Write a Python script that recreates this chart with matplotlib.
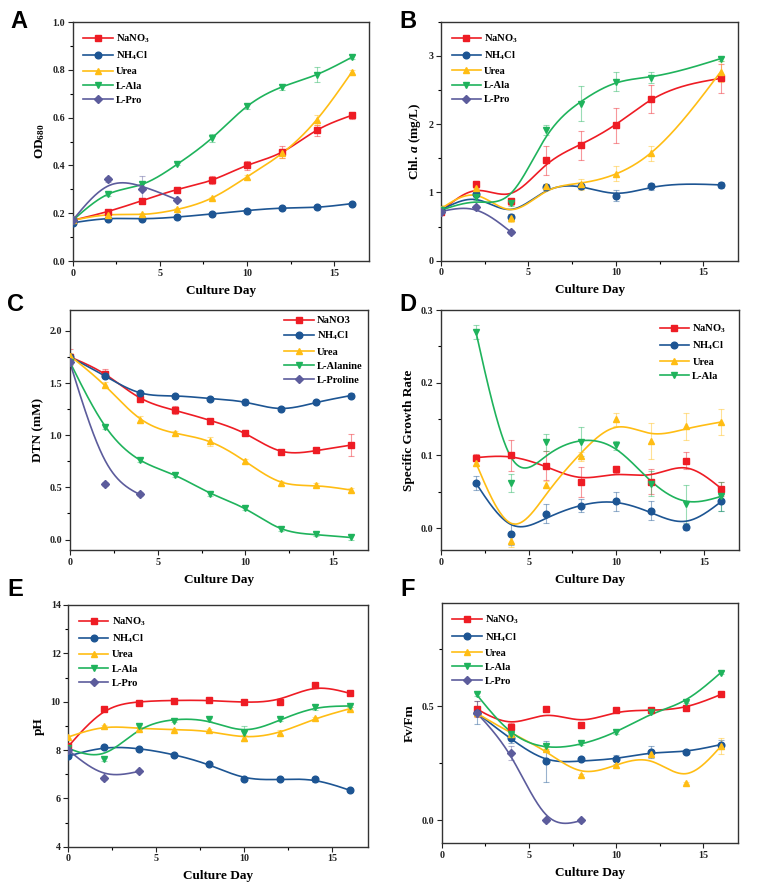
import numpy as np
import matplotlib
matplotlib.use("Agg")
import matplotlib.pyplot as plt
from matplotlib.ticker import MultipleLocator

plt.rcParams['font.family'] = ['Liberation Serif', 'DejaVu Serif']
plt.rcParams['font.weight'] = 'bold'
plt.rcParams['mathtext.fontset'] = 'custom'
plt.rcParams['mathtext.rm'] = 'Liberation Serif:bold'
plt.rcParams['mathtext.bf'] = 'Liberation Serif:bold'
plt.rcParams['mathtext.it'] = 'Liberation Serif:bold:italic'

# ---------------- data ----------------
days_all = [0, 2, 4, 6, 8, 10, 12, 14, 16]
days_b = [0, 2, 4, 6, 8, 10, 12, 16]
days_grow = [2, 4, 6, 8, 10, 12, 14, 16]

# Panel A: OD680
A_nano3 = [0.17, 0.207, 0.253, 0.299, 0.339, 0.400, 0.455, 0.547, 0.609]
A_nano3_err = [0.005, 0.008, 0.01, 0.01, 0.015, 0.02, 0.025, 0.022, 0.015]
A_nh4cl = [0.16, 0.177, 0.177, 0.184, 0.197, 0.211, 0.221, 0.225, 0.240]
A_nh4cl_err = [0.005, 0.005, 0.005, 0.005, 0.005, 0.005, 0.005, 0.005, 0.005]
A_urea = [0.17, 0.193, 0.195, 0.216, 0.264, 0.352, 0.450, 0.591, 0.789]
A_urea_err = [0.005, 0.005, 0.005, 0.005, 0.005, 0.008, 0.02, 0.02, 0.012]
A_lala = [0.17, 0.279, 0.321, 0.405, 0.515, 0.647, 0.728, 0.780, 0.852]
A_lala_err = [0.005, 0.005, 0.01, 0.005, 0.015, 0.01, 0.012, 0.03, 0.008]
A_lpro_days = [0, 2, 4, 6]
A_lpro = [0.17, 0.342, 0.300, 0.256]
A_lpro_err = [0.005, 0.01, 0.055, 0.005]

# Panel B: Chl. a
B_nano3 = [0.72, 1.12, 0.87, 1.47, 1.69, 1.98, 2.37, 2.67]
B_nano3_err = [0.05, 0.05, 0.05, 0.21, 0.21, 0.25, 0.20, 0.21]
B_nh4cl = [0.74, 0.98, 0.64, 1.08, 1.09, 0.95, 1.09, 1.11]
B_nh4cl_err = [0.05, 0.05, 0.05, 0.04, 0.04, 0.08, 0.05, 0.04]
B_urea = [0.76, 1.06, 0.62, 1.09, 1.12, 1.27, 1.57, 2.77]
B_urea_err = [0.05, 0.05, 0.06, 0.04, 0.08, 0.11, 0.11, 0.15]
B_lala = [0.74, 0.93, 0.85, 1.91, 2.30, 2.62, 2.68, 2.96]
B_lala_err = [0.05, 0.04, 0.05, 0.07, 0.26, 0.14, 0.08, 0.03]
B_lpro_days = [0, 2, 4]
B_lpro = [0.72, 0.78, 0.42]
B_lpro_err = [0.03, 0.03, 0.03]

# Panel C: DTN
C_nano3 = [1.75, 1.59, 1.35, 1.24, 1.14, 1.02, 0.84, 0.855, 0.905]
C_nano3_err = [0.08, 0.04, 0.03, 0.04, 0.02, 0.02, 0.02, 0.02, 0.105]
C_nh4cl = [1.75, 1.57, 1.40, 1.38, 1.35, 1.32, 1.25, 1.315, 1.38]
C_nh4cl_err = [0.03, 0.02, 0.02, 0.01, 0.01, 0.03, 0.02, 0.02, 0.02]
C_urea = [1.76, 1.48, 1.15, 1.02, 0.94, 0.75, 0.545, 0.52, 0.475]
C_urea_err = [0.03, 0.03, 0.03, 0.02, 0.04, 0.02, 0.02, 0.02, 0.02]
C_lalanine = [1.70, 1.08, 0.76, 0.62, 0.44, 0.30, 0.10, 0.05, 0.02]
C_lalanine_err = [0.02, 0.02, 0.02, 0.02, 0.02, 0.02, 0.02, 0.02, 0.02]
C_lproline_days = [0, 2, 4]
C_lproline = [1.70, 0.53, 0.435]
C_lproline_err = [0.02, 0.02, 0.02]

# Panel D: specific growth rate
D_nano3 = [0.097, 0.100, 0.086, 0.0635, 0.081, 0.064, 0.093, 0.054]
D_nano3_err = [0.005, 0.021, 0.02, 0.021, 0.005, 0.017, 0.012, 0.01]
D_nh4cl = [0.062, -0.008, 0.020, 0.031, 0.037, 0.024, 0.002, 0.037]
D_nh4cl_err = [0.01, 0.015, 0.013, 0.009, 0.013, 0.013, 0.005, 0.013]
D_urea = [0.090, -0.018, 0.060, 0.099, 0.150, 0.120, 0.140, 0.146]
D_urea_err = [0.005, 0.008, 0.005, 0.006, 0.009, 0.025, 0.019, 0.018]
D_lala = [0.270, 0.062, 0.118, 0.119, 0.114, 0.061, 0.033, 0.044]
D_lala_err = [0.01, 0.012, 0.012, 0.02, 0.006, 0.017, 0.027, 0.02]

# Panel E: pH
E_nano3 = [8.15, 9.70, 9.93, 10.04, 10.06, 10.0, 10.0, 10.69, 10.34]
E_nano3_err = [0.05, 0.05, 0.05, 0.05, 0.05, 0.05, 0.05, 0.05, 0.05]
E_nh4cl = [7.75, 8.11, 8.04, 7.79, 7.43, 6.79, 6.79, 6.79, 6.33]
E_nh4cl_err = [0.05, 0.05, 0.05, 0.05, 0.05, 0.05, 0.05, 0.1, 0.05]
E_urea = [8.54, 8.99, 8.86, 8.84, 8.81, 8.51, 8.72, 9.32, 9.71]
E_urea_err = [0.05, 0.05, 0.05, 0.05, 0.05, 0.12, 0.1, 0.05, 0.05]
E_lala = [8.07, 7.61, 8.99, 9.20, 9.27, 8.69, 9.27, 9.77, 9.82]
E_lala_err = [0.05, 0.05, 0.05, 0.05, 0.05, 0.3, 0.05, 0.1, 0.05]
E_lpro_days = [0, 2, 4]
E_lpro = [8.0, 6.83, 7.12]
E_lpro_err = [0.05, 0.05, 0.05]

# Panel F: Fv/Fm
F_nano3 = [0.488, 0.408, 0.488, 0.418, 0.484, 0.481, 0.493, 0.551]
F_nano3_err = [0.035, 0.02, 0.005, 0.005, 0.005, 0.005, 0.005, 0.005]
F_nh4cl = [0.471, 0.360, 0.258, 0.267, 0.268, 0.300, 0.299, 0.332]
F_nh4cl_err = [0.05, 0.02, 0.09, 0.005, 0.02, 0.025, 0.01, 0.02]
F_urea = [0.469, 0.379, 0.313, 0.197, 0.243, 0.292, 0.165, 0.325]
F_urea_err = [0.01, 0.01, 0.01, 0.005, 0.015, 0.015, 0.005, 0.035]
F_lala = [0.551, 0.376, 0.324, 0.337, 0.385, 0.474, 0.517, 0.647]
F_lala_err = [0.005, 0.005, 0.01, 0.005, 0.005, 0.005, 0.005, 0.005]
F_lpro_days = [2, 4, 6, 8]
F_lpro = [0.471, 0.294, 0.0, 0.0]
F_lpro_err = [0.01, 0.03, 0.005, 0.005]

# ---------------- style ----------------
C_RED = '#ee1c24'
C_BLUE = '#1d5593'
C_YEL = '#ffbd14'
C_GRN = '#1fb35c'
C_PUR = '#5c5c9c'

LBL_NANO3 = 'NaNO$_3$'
LBL_NH4CL = 'NH$_4$Cl'


def smooth(x, y, lam, wend=20.0, n=400):
    """Smoothing spline (penalised second differences) that is pinned
    near the first and last data point, like Origin's spline connector."""
    x = np.asarray(x, float)
    y = np.asarray(y, float)
    xs = np.linspace(x.min(), x.max(), n)
    h = xs[1] - xs[0]
    A = np.zeros((len(x), n))
    for i, xi in enumerate(x):
        j = min(int((xi - xs[0]) / h), n - 2)
        t = (xi - xs[j]) / h
        A[i, j] = 1 - t
        A[i, j + 1] = t
    w = np.ones(len(x))
    w[0] = w[-1] = wend
    W_ = np.diag(w)
    D = np.diff(np.eye(n), 2, axis=0) / h ** 2
    M = A.T @ W_ @ A + lam * h * (D.T @ D)
    f = np.linalg.solve(M, A.T @ W_ @ y)
    return xs, f


def series(ax, x, y, err, color, marker, label, lam, ms=4.8):
    xs, f = smooth(x, y, lam)
    ax.plot(xs, f, color=color, lw=1.2, zorder=2)
    ax.errorbar(x, y, yerr=err, fmt='none', ecolor=color, alpha=0.45,
                elinewidth=0.8, capsize=2.2, capthick=0.8, zorder=1)
    ax.plot(x, y, linestyle='none', marker=marker, color=color, ms=ms, zorder=3)
    ax.plot([], [], color=color, marker=marker, ms=ms, lw=1.2, label=label)


def style(ax, ylim, ymaj, ymin, ylabel):
    ax.set_xlim(0, 17)
    ax.set_ylim(*ylim)
    ax.xaxis.set_major_locator(MultipleLocator(5))
    ax.xaxis.set_minor_locator(MultipleLocator(2.5))
    ax.yaxis.set_major_locator(MultipleLocator(ymaj))
    ax.yaxis.set_minor_locator(MultipleLocator(ymin))
    ax.tick_params(which='major', direction='out', length=3.5, width=0.8,
                   labelsize=7.2, pad=2, colors='#222222')
    ax.tick_params(which='minor', direction='out', length=2, width=0.8)
    for s in ax.spines.values():
        s.set_color('#333333')
        s.set_linewidth(1.0)
    for lab in ax.get_xticklabels() + ax.get_yticklabels():
        lab.set_fontweight('bold')
    ax.set_xlabel('Culture Day', fontsize=9.5, fontweight='bold', labelpad=5)
    ax.set_ylabel(ylabel, fontsize=9.5, fontweight='bold', labelpad=4)


def legend(ax, loc, **kw):
    opts = dict(loc=loc, frameon=False, fontsize=7.6, handlelength=2.8,
                labelspacing=0.45, handletextpad=0.3, borderaxespad=0.6)
    opts.update(kw)
    ax.legend(**opts)


W, H = 761, 889
fig = plt.figure(figsize=(W / 100, H / 100), dpi=100)


def axes_px(l, r, t, b):
    return fig.add_axes([l / W, 1 - b / H, (r - l) / W, (b - t) / H])


axA = axes_px(72.7, 369, 22, 261)
axB = axes_px(441, 738.3, 21.7, 260.7)
axC = axes_px(70, 368.3, 310, 550)
axD = axes_px(441, 739, 310, 550)
axE = axes_px(68.3, 367.7, 605, 846.7)
axF = axes_px(441.7, 738.3, 603.3, 843.3)

# A
series(axA, days_all, A_nano3, A_nano3_err, C_RED, 's', LBL_NANO3, 0.01)
series(axA, days_all, A_nh4cl, A_nh4cl_err, C_BLUE, 'o', LBL_NH4CL, 0.01)
series(axA, days_all, A_urea, A_urea_err, C_YEL, '^', 'Urea', 0.01)
series(axA, days_all, A_lala, A_lala_err, C_GRN, 'v', 'L-Ala', 0.01)
series(axA, A_lpro_days, A_lpro, A_lpro_err, C_PUR, 'D', 'L-Pro', 0.6, ms=4.3)
style(axA, (0, 1.0), 0.2, 0.1, 'OD$_{680}$')
legend(axA, 'upper left')

# B
series(axB, days_b, B_nano3, B_nano3_err, C_RED, 's', LBL_NANO3, 0.3)
series(axB, days_b, B_nh4cl, B_nh4cl_err, C_BLUE, 'o', LBL_NH4CL, 0.3)
series(axB, days_b, B_urea, B_urea_err, C_YEL, '^', 'Urea', 0.3)
series(axB, days_b, B_lala, B_lala_err, C_GRN, 'v', 'L-Ala', 0.3)
series(axB, B_lpro_days, B_lpro, B_lpro_err, C_PUR, 'D', 'L-Pro', 0.3, ms=4.3)
style(axB, (0, 3.5), 1, 0.5, 'Chl. $a$ (mg/L)')
legend(axB, 'upper left')

# C
series(axC, days_all, C_nano3, C_nano3_err, C_RED, 's', 'NaNO3', 0.1)
series(axC, days_all, C_nh4cl, C_nh4cl_err, C_BLUE, 'o', LBL_NH4CL, 0.1)
series(axC, days_all, C_urea, C_urea_err, C_YEL, '^', 'Urea', 0.1)
series(axC, days_all, C_lalanine, C_lalanine_err, C_GRN, 'v', 'L-Alanine', 0.1)
series(axC, C_lproline_days, C_lproline, C_lproline_err, C_PUR, 'D', 'L-Proline', 1.0, ms=4.3)
style(axC, (-0.1, 2.2), 0.5, 0.25, 'DTN (mM)')
legend(axC, 'upper right', borderaxespad=0.15)

# D
series(axD, days_grow, D_nano3, D_nano3_err, C_RED, 's', LBL_NANO3, 0.5)
series(axD, days_grow, D_nh4cl, D_nh4cl_err, C_BLUE, 'o', LBL_NH4CL, 0.5)
series(axD, days_grow, D_urea, D_urea_err, C_YEL, '^', 'Urea', 0.5)
series(axD, days_grow, D_lala, D_lala_err, C_GRN, 'v', 'L-Ala', 0.5)
style(axD, (-0.03, 0.3), 0.1, 0.05, 'Specific Growth Rate')
legend(axD, 'upper right', borderaxespad=0.8, borderpad=0.4)

# E
series(axE, days_all, E_nano3, E_nano3_err, C_RED, 's', LBL_NANO3, 0.4)
series(axE, days_all, E_nh4cl, E_nh4cl_err, C_BLUE, 'o', LBL_NH4CL, 0.4)
series(axE, days_all, E_urea, E_urea_err, C_YEL, '^', 'Urea', 0.4)
series(axE, days_all, E_lala, E_lala_err, C_GRN, 'v', 'L-Ala', 0.4)
series(axE, E_lpro_days, E_lpro, E_lpro_err, C_PUR, 'D', 'L-Pro', 0.6, ms=4.3)
style(axE, (4, 14), 2, 1, 'pH')
legend(axE, 'upper left')

# F
series(axF, days_grow, F_nano3, F_nano3_err, C_RED, 's', LBL_NANO3, 0.4)
series(axF, days_grow, F_nh4cl, F_nh4cl_err, C_BLUE, 'o', LBL_NH4CL, 0.4)
series(axF, days_grow, F_urea, F_urea_err, C_YEL, '^', 'Urea', 0.4)
series(axF, days_grow, F_lala, F_lala_err, C_GRN, 'v', 'L-Ala', 0.4)
series(axF, F_lpro_days, F_lpro, F_lpro_err, C_PUR, 'D', 'L-Pro', 0.2, ms=4.3)
style(axF, (-0.1, 0.95), 0.5, 0.25, 'Fv/Fm')
legend(axF, 'upper left')

# Panel letters
for letter, (px, py) in {'A': (19, 22), 'B': (408, 22), 'C': (15, 305),
                         'D': (408, 305), 'E': (15, 590), 'F': (408, 590)}.items():
    fig.text(px / W, 1 - py / H, letter, fontsize=17, fontweight='bold',
             family=['Liberation Sans', 'DejaVu Sans'], ha='center', va='center')

fig.savefig('out.png', dpi=100)
